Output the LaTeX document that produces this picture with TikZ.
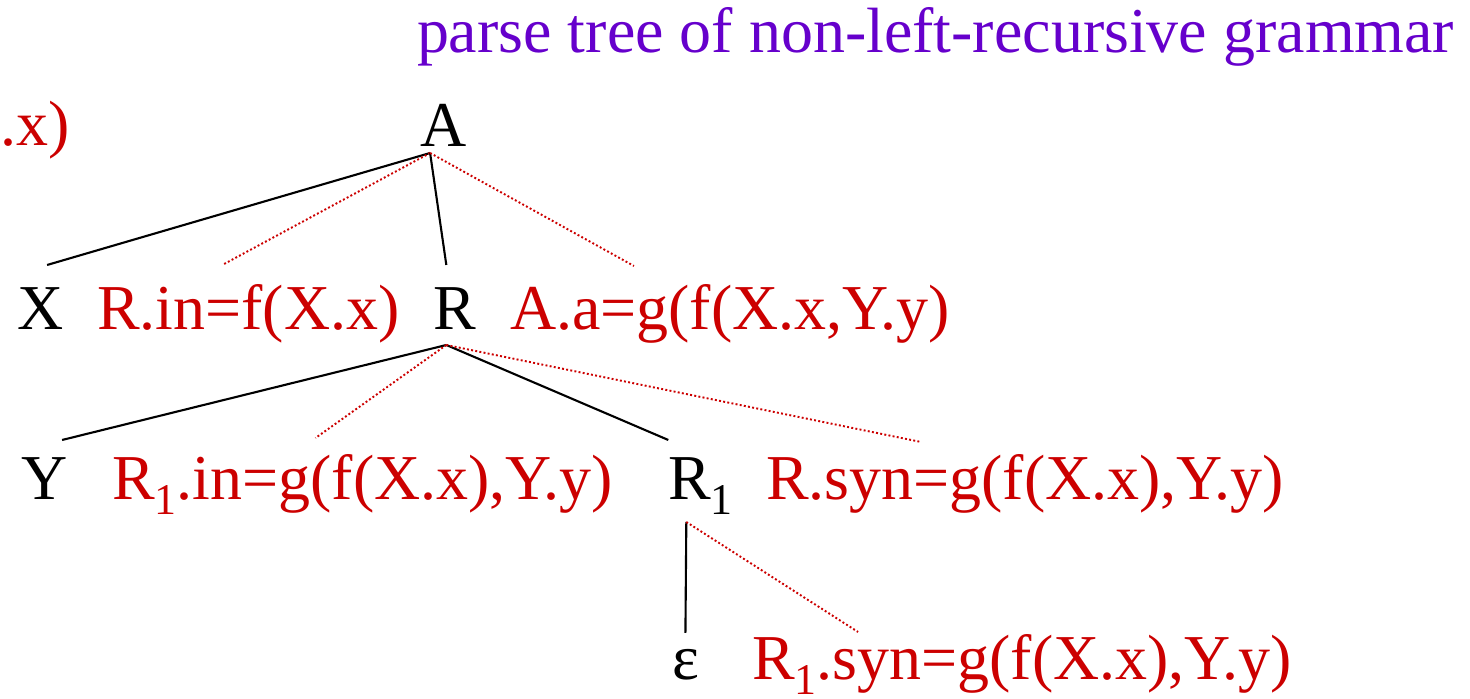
\documentclass[tikz,border=0pt]{standalone}
\usepackage{fontspec}
\setmainfont{Liberation Serif}

\definecolor{attrred}{RGB}{204,0,0}
\definecolor{titleviolet}{RGB}{102,0,204}
\newcommand{\treefont}{\fontsize{18.2}{22}\selectfont}
\newcommand{\sbone}{\raisebox{-4pt}{\fontsize{12.5}{12.5}\selectfont 1}}

\tikzset{
  sym/.style={anchor=base west, inner sep=0pt, outer sep=0pt, font=\treefont},
  attr/.style={sym, text=attrred},
  edge/.style={line width=0.6pt, black},
  flow/.style={line width=0.55pt, attrred, dash pattern=on 0.55pt off 0.65pt},
}

\begin{document}
\begin{tikzpicture}[x=0.1mm, y=-0.1mm]
\useasboundingbox (0,0) rectangle (1470,699);
\node[sym, text=titleviolet] (title) at (417,53) {parse tree of non-left-recursive grammar};
\node[attr, anchor=base east] (cut) at (70,146) {.x)};
% tree
\node[sym] (A) at (420,147) {A};
\node[sym] (X) at (18,330) {X};
\node[attr] (rin) at (97,330) {R.in=f(X.x)};
\node[sym] (R) at (433,330) {R};
\node[attr] (aa) at (510,330) {A.a=g(f(X.x,Y.y)};
\node[sym] (Y) at (22,500) {Y};
\node[attr] (r1in) at (112,500) {R\sbone.in=g(f(X.x),Y.y)};
\node[sym] (R1) at (668,500) {R\sbone};
\node[attr] (rsyn) at (766,500) {R.syn=g(f(X.x),Y.y)};
\node[sym] (eps) at (672,680) {ε};
\node[attr] (r1syn) at (752,680) {R\sbone.syn=g(f(X.x),Y.y)};
% edges of A
\draw[edge] ([shift={(-13,6)}]A.base) -- ([shift={(6,-65)}]X.base);
\draw[flow] ([shift={(-13,6)}]A.base) -- ([shift={(-26,-65)}]rin.base);
\draw[edge] ([shift={(-13,6)}]A.base) -- ([shift={(-8,-65)}]R.base);
\draw[flow] ([shift={(-13,6)}]A.base) -- ([shift={(-96,-64)}]aa.base);
% edges of R
\draw[edge] ([shift={(-8,15)}]R.base) -- ([shift={(17,-60)}]Y.base);
\draw[flow] ([shift={(-8,15)}]R.base) -- ([shift={(-47,-62)}]r1in.base);
\draw[edge] ([shift={(-8,15)}]R.base) -- ([shift={(-32,-60)}]R1.base);
\draw[flow] ([shift={(-8,15)}]R.base) -- ([shift={(-104,-58)}]rsyn.base);
% edges of R1
\draw[edge] ([shift={(-14,22)}]R1.base) -- ([shift={(0,-47)}]eps.base);
\draw[flow] ([shift={(-14,22)}]R1.base) -- ([shift={(-164,-48)}]r1syn.base);
\end{tikzpicture}
\end{document}
